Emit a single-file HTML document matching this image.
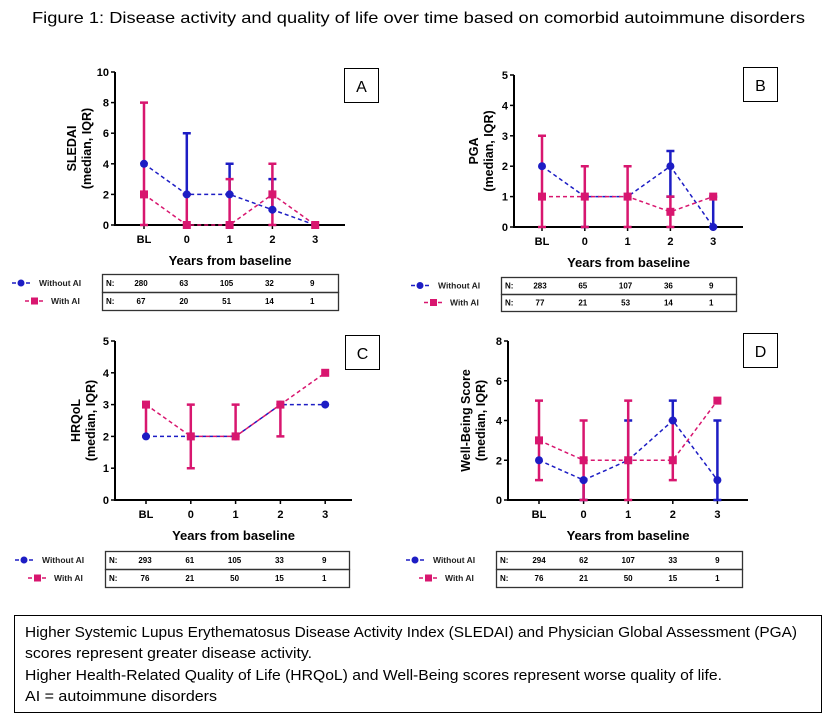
<!DOCTYPE html>
<html><head><meta charset="utf-8"><style>
body{margin:0;background:#fff;}
svg{display:block;font-family:"Liberation Sans",Arial,sans-serif;}
.tk{font-size:11px;font-weight:bold;fill:#000;}
.yt{font-size:12.5px;font-weight:bold;}
.xt{font-size:13px;font-weight:bold;}
.tb{font-size:8px;font-weight:bold;}
.lg{font-size:8.5px;font-weight:bold;}
.note{font-size:15px;fill:#000;}
</style></head><body>
<svg id="fig" width="836" height="725" viewBox="0 0 836 725">
<text x="32" y="23" font-size="16" textLength="773" lengthAdjust="spacingAndGlyphs">Figure 1: Disease activity and quality of life over time based on comorbid autoimmune disorders</text>
<g>
<rect x="14.5" y="615.5" width="807" height="97" fill="none" stroke="#000" stroke-width="1"/>
<text class="note" x="25" y="637" textLength="772" lengthAdjust="spacingAndGlyphs">Higher Systemic Lupus Erythematosus Disease Activity Index (SLEDAI) and Physician Global Assessment (PGA)</text>
<text class="note" x="25" y="658" textLength="287" lengthAdjust="spacingAndGlyphs">scores represent greater disease activity.</text>
<text class="note" x="25" y="680" textLength="697" lengthAdjust="spacingAndGlyphs">Higher Health-Related Quality of Life (HRQoL) and Well-Being scores represent worse quality of life.</text>
<text class="note" x="25" y="701" textLength="192" lengthAdjust="spacingAndGlyphs">AI = autoimmune disorders</text>
</g>
</svg>
<script>
const categories=["BL","0","1","2","3"];
// Panel A SLEDAI
const aWithoutMed=[4,2,2,1,0], aWithoutLo=[4,2,2,1,0], aWithoutHi=[4,6,4,3,0];
const aWithMed=[2,0,0,2,0], aWithLo=[0,0,0,0,0], aWithHi=[8,2,3,4,0];
const aTicks=[0,2,4,6,8,10];
const aNWithout=["280","63","105","32","9"], aNWith=["67","20","51","14","1"];
// Panel B PGA
const bWithoutMed=[2,1,1,2,0], bWithoutLo=[2,0,1,1,0], bWithoutHi=[2,1,1,2.5,1];
const bWithMed=[1,1,1,0.5,1], bWithLo=[0,0,0,0,1], bWithHi=[3,2,2,1,1];
const bTicks=[0,1,2,3,4,5];
const bNWithout=["283","65","107","36","9"], bNWith=["77","21","53","14","1"];
// Panel C HRQoL
const cWithoutMed=[2,2,2,3,3], cWithoutLo=[2,2,2,3,3], cWithoutHi=[2,2,2,3,3];
const cWithMed=[3,2,2,3,4], cWithLo=[2,1,2,2,4], cWithHi=[3,3,3,3,4];
const cTicks=[0,1,2,3,4,5];
const cNWithout=["293","61","105","33","9"], cNWith=["76","21","50","15","1"];
// Panel D Well-being
const dWithoutMed=[2,1,2,4,1], dWithoutLo=[2,0,2,4,0], dWithoutHi=[2,1,4,5,4];
const dWithMed=[3,2,2,2,5], dWithLo=[1,0,0,1,5], dWithHi=[5,4,5,4,5];
const dTicks=[0,2,4,6,8];
const dNWithout=["294","62","107","33","9"], dNWith=["76","21","50","15","1"];

const NS="http://www.w3.org/2000/svg";
const svg=document.getElementById('fig');
const BLUE="#1d1dc4", PINK="#d8166f";
function mk(tag,attrs,parent,text){const e=document.createElementNS(NS,tag);for(const k in attrs)e.setAttribute(k,attrs[k]);if(text!==undefined)e.textContent=text;(parent||svg).appendChild(e);return e;}

function panel(p){
  const g=mk('g',{});
  
  
  const ymax=p.ticks[p.ticks.length-1];
  const Y=v=>p.y0-(v/ymax)*(p.y0-p.yTop);
  const X=i=>p.xs0+i*p.dx;
  const ax=mk('path',{d:`M${p.ax} ${p.yTop} V${p.y0} H${p.axEnd}`,fill:'none',stroke:'#000','stroke-width':2},g);
  
  
  p.ticks.forEach(t=>{
    mk('line',{x1:p.ax-4,x2:p.ax,y1:Y(t),y2:Y(t),stroke:'#000','stroke-width':1.5},g);
    const tl=mk('text',{x:p.ax-6,y:Y(t)+4,'text-anchor':'end',class:'tk'},g,String(t));
    
    
  });
  categories.forEach((c,i)=>{
    mk('line',{x1:X(i),x2:X(i),y1:p.y0,y2:p.y0+4,stroke:'#000','stroke-width':1.5},g);
    const tl=mk('text',{x:X(i),y:p.y0+18,'text-anchor':'middle',class:'tk'},g,c);
    
    
  });
  const xt=mk('text',{x:(p.ax+p.axEnd)/2,y:p.y0+40,'text-anchor':'middle',class:'xt'},g,'Years from baseline');
  
  
  const ym=(p.y0+p.yTop)/2;
  const yt=mk('text',{transform:`translate(${p.ytx},${ym}) rotate(-90)`,'text-anchor':'middle',class:'yt'},g);
  
  
  mk('tspan',{x:0,y:0},yt,p.ylabel);
  mk('tspan',{x:0,y:15},yt,'(median, IQR)');
  function bars(lo,hi,col,name){
    lo.forEach((l,i)=>{
      if(hi[i]===l)return;
      const e=mk('path',{d:`M${X(i)} ${Y(l)} V${Y(hi[i])} M${X(i)-4} ${Y(hi[i])} H${X(i)+4} M${X(i)-4} ${Y(l)} H${X(i)+4}`,stroke:col,'stroke-width':2.5,fill:'none'},g);
      
      
    });
  }
  bars(p.woLo,p.woHi,BLUE,p.id+'-without-ai');
  bars(p.wLo,p.wHi,PINK,p.id+'-with-ai');
  const l1=mk('polyline',{points:p.woMed.map((v,i)=>X(i)+','+Y(v)).join(' '),fill:'none',stroke:BLUE,'stroke-width':1.5,'stroke-dasharray':'4 3'},g);
  
  
  const l2=mk('polyline',{points:p.wMed.map((v,i)=>X(i)+','+Y(v)).join(' '),fill:'none',stroke:PINK,'stroke-width':1.5,'stroke-dasharray':'4 3'},g);
  
  
  p.woMed.forEach((v,i)=>{
    const c=mk('circle',{cx:X(i),cy:Y(v),r:4,fill:BLUE},g);
    
    
  });
  p.wMed.forEach((v,i)=>{
    const s=mk('rect',{x:X(i)-4,y:Y(v)-4,width:8,height:8,fill:PINK},g);
    
    
  });
  const lb=mk('rect',{x:p.bx+0.5,y:p.by+0.5,width:34,height:34,fill:'#fff',stroke:'#000','stroke-width':1},g);
  
  
  mk('text',{x:p.bx+17.5,y:p.by+24,'text-anchor':'middle','font-size':16},g,p.letter);
  const tw=p.tx2-p.tx1, rh=p.rh;
  const tab=mk('g',{},g);
  
  
  mk('rect',{x:p.tx1+0.5,y:p.ty+0.5,width:tw,height:rh,fill:'none',stroke:'#333','stroke-width':1.3},tab);
  mk('rect',{x:p.tx1+0.5,y:p.ty+rh+0.5,width:tw,height:rh,fill:'none',stroke:'#333','stroke-width':1.3},tab);
  [[p.nwo,0],[p.nw,1]].forEach(([arr,r])=>{
    mk('text',{x:p.tx1+4,y:p.ty+r*rh+rh/2+3,class:'tb'},tab,'N:');
    arr.forEach((n,i)=>mk('text',{x:X(i)+p.nOff,y:p.ty+r*rh+rh/2+3,'text-anchor':'middle',class:'tb'},tab,n));
  });
  const lgx=p.tx1-90, y1=p.ty+rh/2, y2=p.ty+rh*1.5;
  const lg1=mk('g',{},g);
  
  
  mk('line',{x1:lgx,x2:lgx+20,y1:y1,y2:y1,stroke:BLUE,'stroke-width':1.5,'stroke-dasharray':'4 3'},lg1);
  mk('circle',{cx:lgx+9,cy:y1,r:3.5,fill:BLUE},lg1);
  mk('text',{x:lgx+27,y:y1+3,class:'lg',fill:'#222'},lg1,'Without AI');
  const lg2=mk('g',{},g);
  
  
  mk('line',{x1:lgx+13,x2:lgx+33,y1:y2,y2:y2,stroke:PINK,'stroke-width':1.5,'stroke-dasharray':'4 3'},lg2);
  mk('rect',{x:lgx+19,y:y2-3.5,width:7,height:7,fill:PINK},lg2);
  mk('text',{x:lgx+39,y:y2+3,class:'lg',fill:'#222'},lg2,'With AI');
}

panel({id:'sledai',letter:'A',ylabel:'SLEDAI',ticks:aTicks,ax:115,axEnd:345,yTop:72,y0:225,xs0:144,dx:42.8,ytx:76,
  woMed:aWithoutMed,woLo:aWithoutLo,woHi:aWithoutHi,wMed:aWithMed,wLo:aWithLo,wHi:aWithHi,
  bx:344,by:68,tx1:102,tx2:338,ty:274,rh:18,nwo:aNWithout,nw:aNWith,nOff:-3});
panel({id:'pga',letter:'B',ylabel:'PGA',ticks:bTicks,ax:514,axEnd:743,yTop:75,y0:227,xs0:542,dx:42.8,ytx:478,
  woMed:bWithoutMed,woLo:bWithoutLo,woHi:bWithoutHi,wMed:bWithMed,wLo:bWithLo,wHi:bWithHi,
  bx:743,by:67,tx1:501,tx2:736,ty:277,rh:17,nwo:bNWithout,nw:bNWith,nOff:-2});
panel({id:'hrqol',letter:'C',ylabel:'HRQoL',ticks:cTicks,ax:115,axEnd:352,yTop:341,y0:500,xs0:146,dx:44.8,ytx:80,
  woMed:cWithoutMed,woLo:cWithoutLo,woHi:cWithoutHi,wMed:cWithMed,wLo:cWithLo,wHi:cWithHi,
  bx:345,by:335,tx1:105,tx2:349,ty:551,rh:18,nwo:cNWithout,nw:cNWith,nOff:-1});
panel({id:'wellbeing',letter:'D',ylabel:'Well-Being Score',ticks:dTicks,ax:508,axEnd:748,yTop:341,y0:500,xs0:539,dx:44.6,ytx:470,
  woMed:dWithoutMed,woLo:dWithoutLo,woHi:dWithoutHi,wMed:dWithMed,wLo:dWithLo,wHi:dWithHi,
  bx:743,by:333,tx1:496,tx2:742,ty:551,rh:18,nwo:dNWithout,nw:dNWith,nOff:0});
</script>
</body></html>
